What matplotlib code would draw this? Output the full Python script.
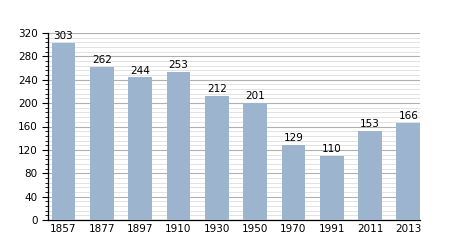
import matplotlib.pyplot as plt
from matplotlib.ticker import MultipleLocator

years = ['1857', '1877', '1897', '1910', '1930', '1950', '1970', '1991', '2011', '2013']
population = [303, 262, 244, 253, 212, 201, 129, 110, 153, 166]

fig = plt.figure(figsize=(4.5, 2.5), dpi=100)
ax = fig.add_axes([0.107, 0.12, 0.826, 0.748])

x = list(range(len(years)))
ax.bar(x, population, width=0.62, color='#9db4cf', zorder=3)

# value labels above bars
for xi, v in zip(x, population):
    ax.text(xi, v + 3, str(v), ha='center', va='bottom', fontsize=7.5, color='black', zorder=4)

ax.set_ylim(0, 320)
ax.set_xlim(-0.4, 9.3)
ax.yaxis.set_major_locator(MultipleLocator(40))
ax.yaxis.set_minor_locator(MultipleLocator(8))
ax.grid(axis='y', which='major', color='#b0b0b0', linewidth=0.8, zorder=0)
ax.grid(axis='y', which='minor', color='#dddddd', linewidth=0.6, zorder=0)

ax.set_xticks(x)
ax.set_xticklabels(years)
ax.tick_params(axis='x', length=0, labelsize=7.5, pad=3)
ax.tick_params(axis='y', which='major', length=4, width=0.8, labelsize=7.5, direction='out')
ax.tick_params(axis='y', which='minor', length=2, width=0.6, direction='out')

for s in ['top', 'right']:
    ax.spines[s].set_visible(False)
ax.spines['left'].set_linewidth(0.9)
ax.spines['bottom'].set_linewidth(0.9)

plt.savefig('out.png', dpi=100)
